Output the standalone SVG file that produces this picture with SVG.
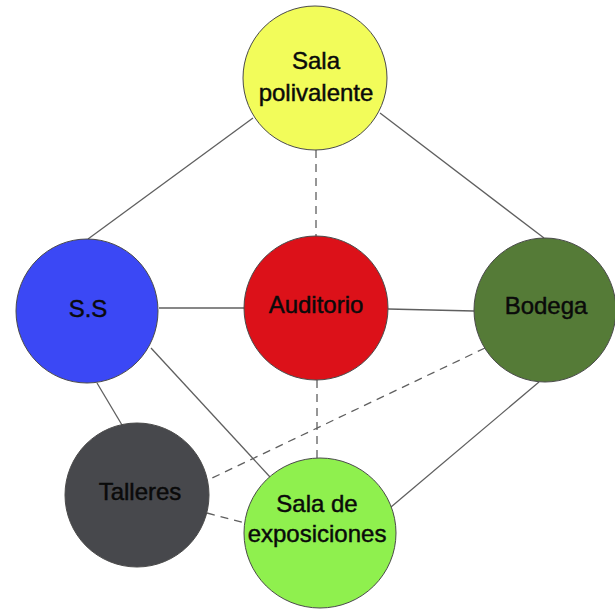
<svg xmlns="http://www.w3.org/2000/svg" width="615" height="610" viewBox="0 0 615 610">
<style>
.edge{stroke:#5f5f5f;stroke-width:1.3;fill:none}
.dash{stroke-dasharray:8 6}
.node{stroke:#4a4a4a;stroke-width:1}
.lbl{font-family:"Liberation Sans",Arial,sans-serif;font-size:24px;fill:#0a0a0a;stroke:#0a0a0a;stroke-width:0.45;text-anchor:middle}
</style>
<rect width="615" height="610" fill="#fff"/>
<g id="connectors">
<line class="edge" x1="253" y1="118" x2="88" y2="239"/>
<line class="edge" x1="380" y1="113" x2="544" y2="238"/>
<line class="edge dash" x1="316" y1="150" x2="316" y2="237"/>
<line class="edge" x1="159" y1="308" x2="245" y2="308"/>
<line class="edge" x1="388" y1="309" x2="474" y2="311"/>
<line class="edge" x1="97" y1="383" x2="122" y2="425"/>
<line class="edge" x1="151" y1="348" x2="270" y2="477"/>
<line class="edge dash" x1="317" y1="380" x2="317" y2="458"/>
<line class="edge dash" x1="485" y1="348" x2="208" y2="480"/>
<line class="edge dash" x1="207" y1="513" x2="245" y2="523"/>
<line class="edge" x1="539" y1="382" x2="391" y2="507"/>
</g>
<g id="sala-polivalente">
<ellipse class="node" cx="315" cy="78" rx="72" ry="72" fill="#f2fc5a"/>
<text class="lbl" x="316" y="69">Sala</text>
<text class="lbl" x="316" y="101">polivalente</text>
</g>
<g id="ss">
<ellipse class="node" cx="87" cy="311" rx="71" ry="72" fill="#3b48f5"/>
<text class="lbl" x="88" y="317">S.S</text>
</g>
<g id="auditorio">
<ellipse class="node" cx="316" cy="308" rx="72" ry="72" fill="#dc1119"/>
<text class="lbl" x="316" y="313">Auditorio</text>
</g>
<g id="bodega">
<ellipse class="node" cx="545" cy="310" rx="71" ry="72" fill="#557b37"/>
<text class="lbl" x="546" y="314">Bodega</text>
</g>
<g id="talleres">
<ellipse class="node" cx="137" cy="495" rx="72" ry="72" fill="#47484c"/>
<text class="lbl" x="140" y="500">Talleres</text>
</g>
<g id="sala-exposiciones">
<ellipse class="node" cx="320" cy="533" rx="76" ry="75" fill="#8ff04e"/>
<text class="lbl" x="317" y="512">Sala de</text>
<text class="lbl" x="317" y="542">exposiciones</text>
</g>
</svg>
